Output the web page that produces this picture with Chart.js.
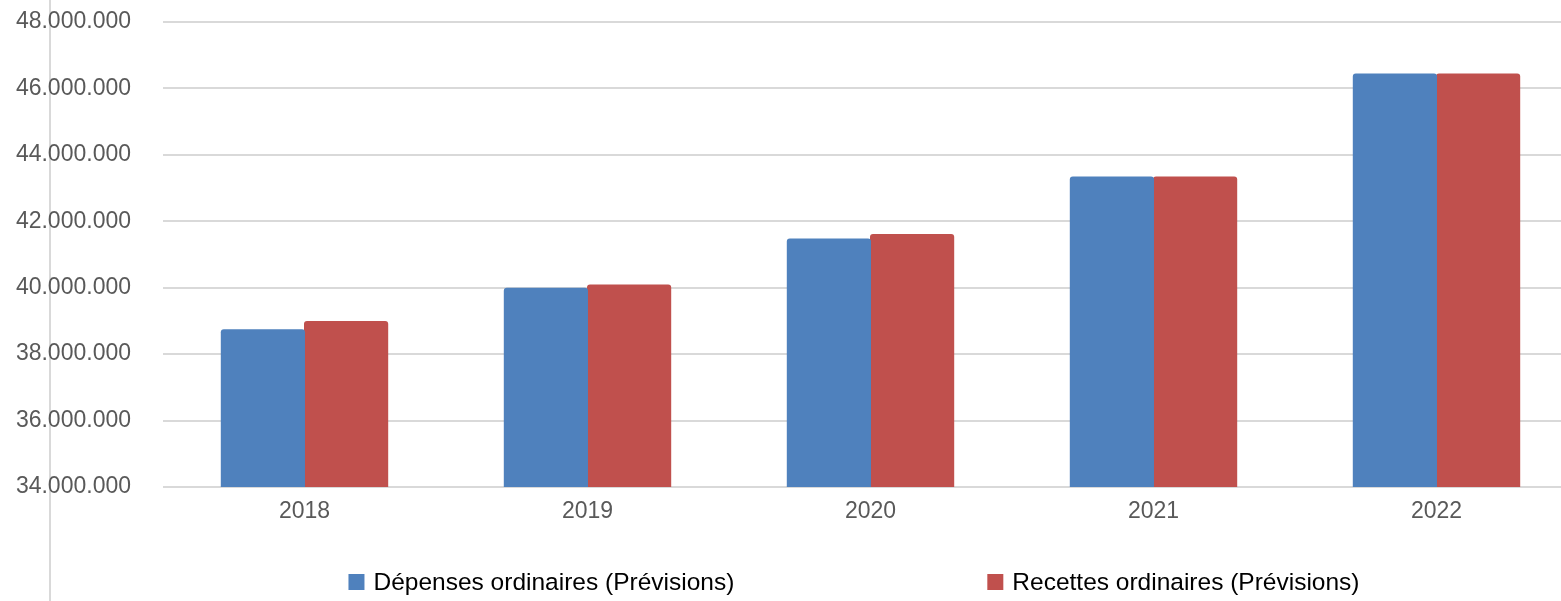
<!DOCTYPE html>
<html>
<head>
<meta charset="utf-8">
<script src="https://cdn.jsdelivr.net/npm/chart.js@4.4.1/dist/chart.umd.min.js"></script>
<style>
  html, body { margin: 0; padding: 0; background: #fff; overflow: hidden; }
  #wrap { width: 1578px; height: 601px; }
</style>
</head>
<body>
<div id="wrap"><canvas id="budgetChart" width="1578" height="601"></canvas></div>
<script>
// chart data
var years = ['2018', '2019', '2020', '2021', '2022'];
var depenses = [38750000, 40000000, 41480000, 43350000, 46450000];
var recettes = [39000000, 40100000, 41620000, 43350000, 46450000];
var seriesNames = ['Dépenses ordinaires (Prévisions)', 'Recettes ordinaires (Prévisions)'];
var yTicks = [34000000, 36000000, 38000000, 40000000, 42000000, 44000000, 46000000, 48000000];

var FONT = "'Liberation Sans', Arial, sans-serif";

function formatNumber(v) {
    return String(Math.round(v)).replace(/\B(?=(\d{3})+(?!\d))/g, '.');
}

// vertical line on the far left, behind the tick labels
var leftLine = {
    id: 'leftLine',
    beforeDraw: function(chart) {
        var ctx = chart.ctx;
        ctx.save();
        ctx.strokeStyle = '#d9d9d9';
        ctx.lineWidth = 2;
        ctx.beginPath();
        ctx.moveTo(50, 0);
        ctx.lineTo(50, chart.height);
        ctx.stroke();
        ctx.restore();
    }
};

// legend drawn at the bottom with a wide gap between items
var bottomLegend = {
    id: 'bottomLegend',
    afterDraw: function(chart) {
        var ctx = chart.ctx;
        var box = 16, gap = 9, between = 253, centerX = 854, y = 582;
        ctx.save();
        ctx.font = '24.5px ' + FONT;
        ctx.textBaseline = 'middle';
        var widths = chart.data.datasets.map(function(ds) {
            return box + gap + ctx.measureText(ds.label).width;
        });
        var total = widths[0] + between + widths[1];
        var x = centerX - total / 2;
        chart.data.datasets.forEach(function(ds, i) {
            ctx.fillStyle = ds.backgroundColor;
            ctx.fillRect(x, y - box / 2, box, box);
            ctx.fillStyle = '#000';
            ctx.fillText(ds.label, x + box + gap, y + 1);
            x += widths[i] + between;
        });
        ctx.restore();
    }
};

var ctx = document.getElementById('budgetChart').getContext('2d');
new Chart(ctx, {
    type: 'bar',
    data: {
        labels: years,
        datasets: [{
            label: seriesNames[0],
            data: depenses,
            backgroundColor: '#4f81bd',
            borderRadius: 3
        }, {
            label: seriesNames[1],
            data: recettes,
            backgroundColor: '#c0504d',
            borderRadius: 3
        }]
    },
    options: {
        responsive: false,
        devicePixelRatio: 1,
        animation: false,
        categoryPercentage: 0.588,
        barPercentage: 1.012,
        layout: { padding: 0 },
        plugins: {
            legend: { display: false },
            tooltip: { enabled: false }
        },
        scales: {
            x: {
                grid: { display: false },
                border: { display: false },
                ticks: {
                    color: '#595959',
                    font: { family: FONT, size: 23 },
                    padding: 3
                },
                afterFit: function(scale) { scale.height = 114; }
            },
            y: {
                min: yTicks[0],
                max: yTicks[yTicks.length - 1],
                border: { display: false },
                grid: { color: '#d9d9d9', lineWidth: 2, drawTicks: false },
                afterBuildTicks: function(scale) {
                    scale.ticks = yTicks.map(function(v) { return { value: v }; });
                },
                ticks: {
                    color: '#595959',
                    font: { family: FONT, size: 23 },
                    padding: 32,
                    callback: function(v) { return formatNumber(v); }
                },
                afterFit: function(scale) {
                    scale.width = 163;
                    scale.paddingTop = 22;
                    scale.paddingBottom = 0;
                }
            }
        }
    },
    plugins: [leftLine, bottomLegend]
});
</script>
</body>
</html>
